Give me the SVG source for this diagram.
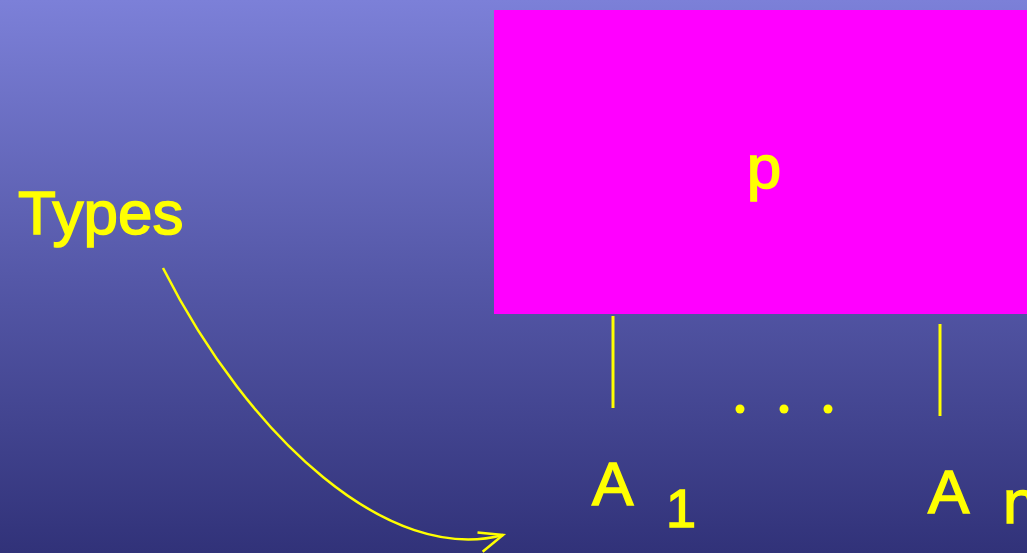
<svg xmlns="http://www.w3.org/2000/svg" width="1027" height="553" viewBox="0 0 1027 553">
<defs>
<linearGradient id="bg" x1="0" y1="0" x2="0" y2="1">
<stop offset="0" stop-color="#7c80d8"/>
<stop offset="0.5" stop-color="#5558a8"/>
<stop offset="1" stop-color="#313279"/>
</linearGradient>
<marker id="open" viewBox="0 0 30 30" refX="27" refY="15" markerWidth="30" markerHeight="30" markerUnits="userSpaceOnUse" orient="auto">
<polyline points="3,6 27,15 3,26" fill="none" stroke="#ffff00" stroke-width="2.5" stroke-linejoin="miter"/>
</marker>
<style>
.t{fill:#ffff00;stroke:#ffff00;stroke-width:1.5;font-family:"Liberation Sans","Open Sans",sans-serif}
.l{stroke:#ffff00;stroke-width:3;fill:none}
.c{stroke:#ffff00;stroke-width:2.5;fill:none}
</style>
</defs>
<rect width="1027" height="553" fill="url(#bg)"/>
<g id="node-p">
<rect x="494" y="10" width="540" height="304" fill="#ff00ff"/>
<text class="t" x="764" y="188" font-size="62" text-anchor="middle">p</text>
</g>
<g id="node-types">
<text class="t" x="18" y="234" font-size="62">Types</text>
</g>
<g id="node-a1">
<text class="t" x="592" y="505" font-size="62">A</text>
<text class="t" x="666" y="527" font-size="54">1</text>
</g>
<g id="node-an">
<text class="t" x="928" y="513" font-size="62">A</text>
<text class="t" x="1003" y="523" font-size="62">n</text>
</g>
<g id="node-dots">
<circle cx="740" cy="409" r="4.5" fill="#ffff00"/>
<circle cx="784" cy="409" r="4.5" fill="#ffff00"/>
<circle cx="828" cy="409" r="4.5" fill="#ffff00"/>
</g>
<g id="connectors">
<line class="l" x1="613" y1="316" x2="613" y2="408"/>
<line class="l" x1="940" y1="324" x2="940" y2="416"/>
<path class="c" d="M163,268 C250,440 390,565 503,535" marker-end="url(#open)"/>
</g>
</svg>
